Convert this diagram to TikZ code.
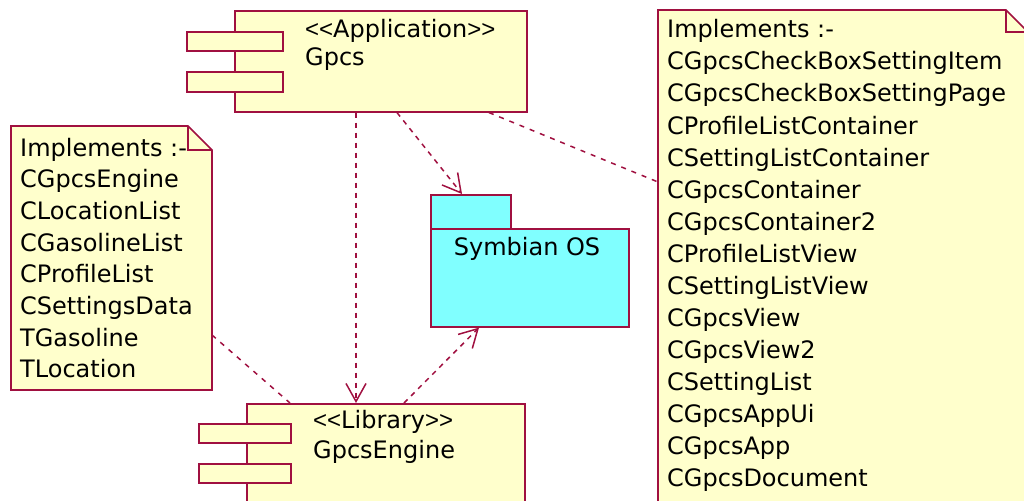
\documentclass[tikz,border=0pt]{standalone}
\usepackage{fontspec}
\setmainfont{DejaVu Sans}
\newfontfamily\anglefont{Liberation Sans}
\usetikzlibrary{arrows.meta,calc}

\definecolor{umlline}{RGB}{160,16,64}
\definecolor{umlfill}{RGB}{255,255,204}
\definecolor{pkgfill}{RGB}{128,255,255}

% stereotype brackets set in a narrower face
\newcommand{\stereo}[1]{{\anglefont<<}#1{\anglefont>>}}

\tikzset{
  umlbox/.style={draw=umlline, fill=umlfill, line width=1.6pt, inner sep=0pt, anchor=north west},
  pkgbox/.style={draw=umlline, fill=pkgfill, line width=1.6pt, inner sep=0pt, anchor=north west},
  notepath/.style={draw=umlline, fill=umlfill, line width=1.6pt},
  foldpath/.style={draw=umlline, line width=1.6pt},
  label/.style={inner sep=0pt, anchor=base west, font=\fontsize{24}{32}\selectfont},
  dep/.style={draw=umlline, line width=1.5pt, dash pattern=on 5pt off 5pt,
    -{Straight Barb[length=18pt, width=20pt, line width=1.5pt]}},
  anchorline/.style={draw=umlline, line width=1.5pt, dash pattern=on 5pt off 6pt},
}

\begin{document}
\begin{tikzpicture}[x=1pt, y=-1pt]
\useasboundingbox (0,0) rectangle (1024,500);
\clip (0,0) rectangle (1024,500);

% ---- component Gpcs ----
\node[umlbox, minimum width=292pt, minimum height=101pt] (gpcs) at (234,10) {};
\node[umlbox, minimum width=96pt, minimum height=19pt] (gpcsp1) at (186,31) {};
\node[umlbox, minimum width=96pt, minimum height=20pt] (gpcsp2) at (186,71) {};
\node[label] (gpcsst) at (305,38) {\stereo{Application}};
\node[label] (gpcsname) at (305,66) {Gpcs};

% ---- component GpcsEngine ----
\node[umlbox, minimum width=278pt, minimum height=120pt] (engine) at (246,403) {};
\node[umlbox, minimum width=92pt, minimum height=19pt] (enginep1) at (198,423) {};
\node[umlbox, minimum width=92pt, minimum height=19pt] (enginep2) at (198,463) {};
\node[label] (enginest) at (313,428) {\stereo{Library}};
\node[label] (enginename) at (313,458) {GpcsEngine};

% ---- package Symbian OS ----
\node[pkgbox, minimum width=80pt, minimum height=34pt] (symtab) at (430,194) {};
\node[pkgbox, minimum width=198pt, minimum height=98pt] (sym) at (430,228) {};
\node[inner sep=0pt, anchor=base, font=\fontsize{24}{32}\selectfont] (symname) at (527,255) {Symbian OS};

% ---- note attached to GpcsEngine ----
\coordinate (lnote) at (11,126);
\path[notepath] (lnote) -- ++(177,0) -- ++(24,24) -- ++(0,240) -- ++(-201,0) -- cycle;
\path[foldpath] ($(lnote)+(177,0)$) -- ++(0,24) -- ++(24,0);
\foreach \t [count=\i from 0] in {Implements :-, CGpcsEngine, CLocationList, CGasolineList,
    CProfileList, CSettingsData, TGasoline, TLocation}
  \node[label] (ln\i) at (20,{156+31.7*\i}) {\t};

% ---- note attached to Gpcs ----
\coordinate (rnote) at (658,10);
\path[notepath] (rnote) -- ++(348,0) -- ++(22,22) -- ++(0,500) -- ++(-370,0) -- cycle;
\path[foldpath] ($(rnote)+(348,0)$) -- ++(0,22) -- ++(22,0);
\foreach \t [count=\i from 0] in {Implements :-, CGpcsCheckBoxSettingItem,
    CGpcsCheckBoxSettingPage, CProfileListContainer, CSettingListContainer,
    CGpcsContainer, CGpcsContainer2, CProfileListView, CSettingListView,
    CGpcsView, CGpcsView2, CSettingList, CGpcsAppUi, CGpcsApp, CGpcsDocument}
  \node[label] (rn\i) at (667,{38+32*\i}) {\t};

% ---- dependencies ----
\draw[dep] ($(gpcs.south west)+(122,0)$) -- ($(engine.north west)+(110,0)$);
\draw[dep] ($(gpcs.south west)+(163,0)$) -- ($(symtab.north west)+(32,0)$);
\draw[dep] ($(engine.north west)+(158,0)$) -- ($(sym.south west)+(49,0)$);

% ---- note anchors ----
\draw[anchorline] ($(gpcs.south west)+(255,0)$) -- ($(rnote)+(0,172)$);
\draw[anchorline] ($(lnote)+(201,209)$) -- ($(engine.north west)+(44,0)$);
\end{tikzpicture}
\end{document}
